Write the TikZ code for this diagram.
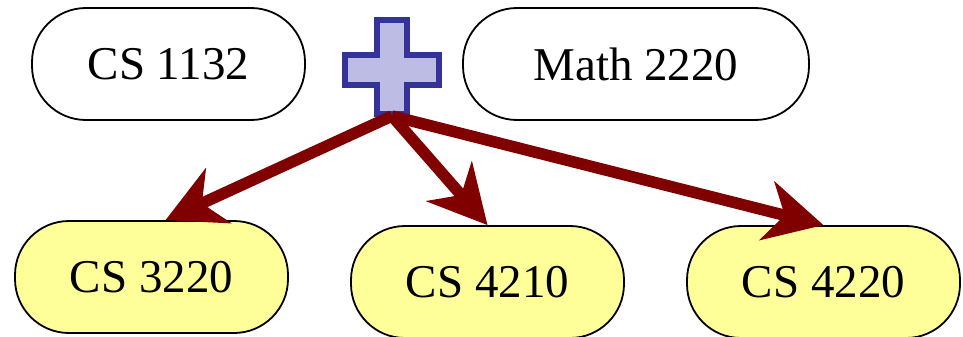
\documentclass[tikz,border=0pt]{standalone}
\usepackage{fontspec}
\setmainfont{Liberation Serif}
\usetikzlibrary{arrows.meta}
\definecolor{arrowred}{RGB}{128,0,0}
\definecolor{crossblue}{RGB}{51,51,153}
\definecolor{crossfill}{RGB}{188,188,228}
\definecolor{nodeyellow}{RGB}{255,255,153}
\tikzset{
  course/.style={draw=black, line width=1.8pt, rounded corners=54pt, rectangle,
    minimum width=273pt, minimum height=112pt, inner sep=0pt,
    font=\fontsize{47}{50}\selectfont},
  newcourse/.style={course, fill=nodeyellow},
  prereq/.style={draw=arrowred, line width=11.5pt,
    -{Stealth[length=58pt, width=60pt, inset=18pt]}},
}
\begin{document}
\begin{tikzpicture}[x=1pt,y=-1pt]
\useasboundingbox (0,0) rectangle (963,337);
\node[course] (c1132) at (168.5,64) {CS 1132};
\node[course, minimum width=346pt] (m2220) at (636,64) {Math 2220};
\node[newcourse] (c3220) at (151.5,277) {CS 3220};
\node[newcourse] (c4210) at (487.5,282) {CS 4210};
\node[newcourse] (c4220) at (823.5,282) {CS 4220};
% plus sign
\draw[draw=crossblue, fill=crossfill, line width=6pt, line join=miter]
  (377,20) -- (407,20) -- (407,55) -- (439,55) -- (439,85) -- (407,85)
  -- (407,114) -- (377,114) -- (377,85) -- (345,85) -- (345,55) -- (377,55) -- cycle;
\coordinate (plus) at (392,116);
\draw[prereq] (plus) -- ([xshift=14pt]c3220.north);
\draw[prereq] (plus) -- (c4210.north);
\draw[prereq] (plus) -- (c4220.north);
\end{tikzpicture}
\end{document}
